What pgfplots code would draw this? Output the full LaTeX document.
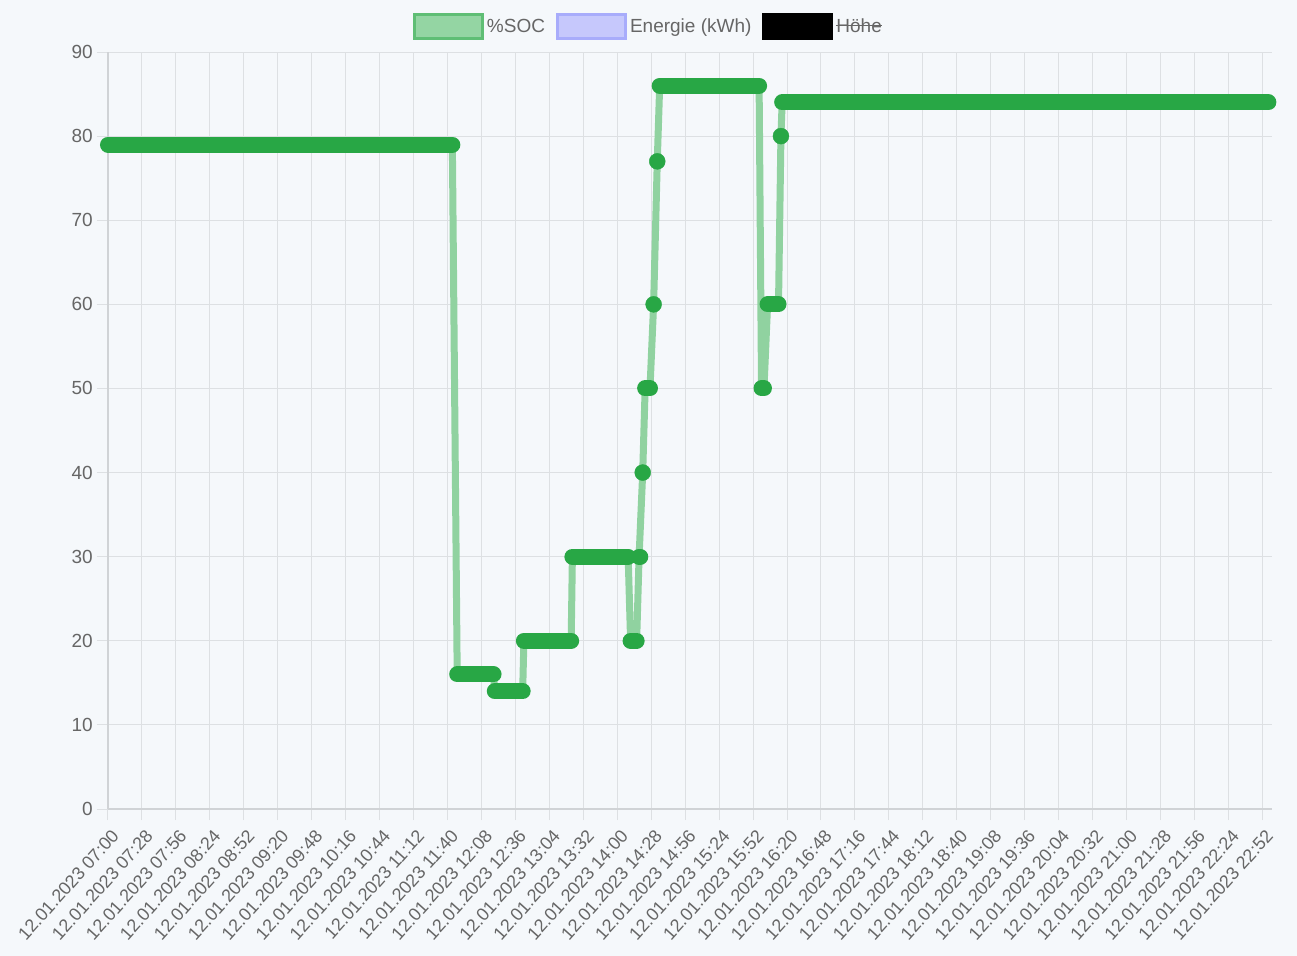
\documentclass[border=0pt]{standalone}
\usepackage{fontspec}
\setmainfont{Liberation Sans}
\usepackage{pgfplots}
\pgfplotsset{compat=1.18}
\definecolor{bgcol}{HTML}{F5F8FB}
\definecolor{gridcol}{HTML}{DDE0E3}
\definecolor{axcol}{HTML}{D0D3D6}
\definecolor{txtcol}{HTML}{666666}
\definecolor{socgreen}{HTML}{28A745}
\definecolor{soclight}{HTML}{90D2A0}
\definecolor{socfill}{HTML}{94D5A3}
\definecolor{socborder}{HTML}{5FBE75}
\definecolor{enfill}{HTML}{C6C8FC}
\definecolor{enborder}{HTML}{A8ACFB}
\newcommand\strike[1]{\leavevmode\setbox0\hbox{#1}\rlap{\rule[0.33em]{\wd0}{1.4bp}}\box0}
\begin{document}
\begin{tikzpicture}
\fill[bgcol] (-108bp,-147bp) rectangle (1189bp,809bp);
\useasboundingbox (-108bp,-147bp) rectangle (1189bp,809bp);
\begin{axis}[
  at={(0,0)}, anchor=south west,
  scale only axis, width=1164bp, height=757bp,
  xmin=0, xmax=960, ymin=0, ymax=90,
  clip=false,
  axis x line*=bottom, axis y line*=left,
  axis line style={draw=axcol, line width=1.2bp},
  grid=major, grid style={draw=gridcol, line width=1bp},
  tick align=outside, major tick length=11bp,
  tick style={draw=gridcol, line width=1bp},
  xtick={0,28,...,952},
  xticklabels={12.01.2023 07:00,12.01.2023 07:28,12.01.2023 07:56,12.01.2023 08:24,12.01.2023 08:52,12.01.2023 09:20,12.01.2023 09:48,12.01.2023 10:16,12.01.2023 10:44,12.01.2023 11:12,12.01.2023 11:40,12.01.2023 12:08,12.01.2023 12:36,12.01.2023 13:04,12.01.2023 13:32,12.01.2023 14:00,12.01.2023 14:28,12.01.2023 14:56,12.01.2023 15:24,12.01.2023 15:52,12.01.2023 16:20,12.01.2023 16:48,12.01.2023 17:16,12.01.2023 17:44,12.01.2023 18:12,12.01.2023 18:40,12.01.2023 19:08,12.01.2023 19:36,12.01.2023 20:04,12.01.2023 20:32,12.01.2023 21:00,12.01.2023 21:28,12.01.2023 21:56,12.01.2023 22:24,12.01.2023 22:52},
  ytick={0,10,...,90},
  /pgf/number format/assume math mode=true,
  every tick label/.append style={font=\fontsize{19bp}{22bp}\selectfont, text=txtcol},
  xticklabel style={xshift=8bp, yshift=-12bp, rotate=48, anchor=east, inner sep=1bp, font=\fontsize{18bp}{21bp}\selectfont},
  yticklabel style={inner sep=4bp},
  legend columns=3,
  legend style={at={(axis description cs:0.4647,1.034)}, anchor=center, draw=none, fill=none,
    font=\fontsize{19bp}{22bp}\selectfont, text=txtcol,
    /tikz/every even column/.append style={column sep=8bp},
    nodes={inner sep=3bp}},
]
\addlegendimage{legend image code/.code={\draw[draw=socborder, fill=socfill, line width=3bp] (0bp,-12bp) rectangle (68bp,12bp);}}
\addlegendentry{\%SOC}
\addlegendimage{legend image code/.code={\draw[draw=enborder, fill=enfill, line width=3bp] (0bp,-12bp) rectangle (68bp,12bp);}}
\addlegendentry{Energie (kWh)}
\addlegendimage{legend image code/.code={\draw[draw=black, fill=black, line width=1bp] (0bp,-13bp) rectangle (70bp,13bp);}}
\addlegendentry{\strike{Höhe}}
% translucent connecting line
\addplot[color=soclight, line width=7bp, line join=round, forget plot] coordinates {
(0,79) (284,79) (288,16) (318,16) (319,14) (342,14) (343,20) (382,20) (383,30) (429,30)
(431,20) (436,20) (438,30) (441,40) (443,50) (447,50) (450,60) (453,77) (455,86) (537,86)
(539,50) (541,50) (544,60) (553,60) (555,80) (556,84) (957,84)};
% dense point runs
\addplot[color=socgreen, line width=16bp, line cap=round, unbounded coords=jump, forget plot] coordinates {
(0,79) (284,79) (285,nan)
(288,16) (318,16) (318.5,nan)
(319,14) (342,14) (342.5,nan)
(343,20) (382,20) (382.5,nan)
(383,30) (429,30) (430,nan)
(431,20) (436,20) (437,nan)
(438,30) (439,30) (440,nan)
(443,50) (447,50) (448,nan)
(455,86) (537,86) (538,nan)
(539,50) (541,50) (542,nan)
(544,60) (553,60) (554,nan)
(556,84) (957,84)};
% single points
\addplot[only marks, mark=*, mark size=8bp, color=socgreen, forget plot] coordinates {
(441,40) (450,60) (453,77) (555,80)};
\end{axis}
\end{tikzpicture}
\end{document}
